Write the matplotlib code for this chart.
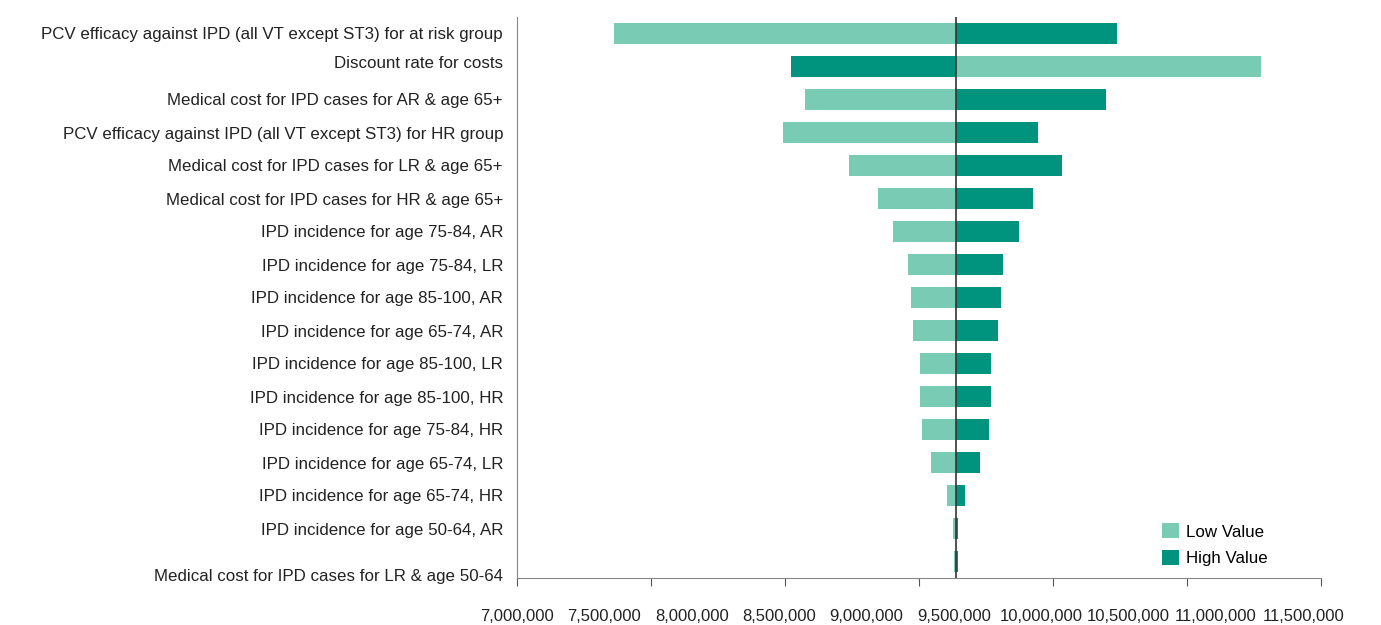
import matplotlib
matplotlib.use('Agg')
import matplotlib.pyplot as plt
import matplotlib.ticker as mticker
from matplotlib.patches import Patch
from matplotlib.transforms import ScaledTranslation

plt.rcParams['font.family'] = ['Liberation Sans', 'DejaVu Sans']

# one-way sensitivity results (total cost), top row first
params = [
    'PCV efficacy against IPD (all VT except ST3) for at risk group',
    'Discount rate for costs',
    'Medical cost for IPD cases for AR & age 65+',
    'PCV efficacy against IPD (all VT except ST3) for HR group',
    'Medical cost for IPD cases for LR & age 65+',
    'Medical cost for IPD cases for HR & age 65+',
    'IPD incidence for age 75-84, AR',
    'IPD incidence for age 75-84, LR',
    'IPD incidence for age 85-100, AR',
    'IPD incidence for age 65-74, AR',
    'IPD incidence for age 85-100, LR',
    'IPD incidence for age 85-100, HR',
    'IPD incidence for age 75-84, HR',
    'IPD incidence for age 65-74, LR',
    'IPD incidence for age 65-74, HR',
    'IPD incidence for age 50-64, AR',
    'Medical cost for IPD cases for LR & age 50-64',
]
low_vals = [7555000, 11259000, 8649000, 8523000, 8900000, 9066000, 9152000,
            9238000, 9255000, 9267000, 9307000, 9307000, 9318000, 9370000,
            9461000, 9496000, 9500000]
high_vals = [10434000, 8568000, 10372000, 9982000, 10120000, 9954000, 9874000,
             9782000, 9770000, 9753000, 9713000, 9713000, 9702000, 9650000,
             9564000, 9524000, 9522000]
base = 9512000

tick_labels = [7000000, 7500000, 8000000, 8500000, 9000000, 9500000,
               10000000, 10500000, 11000000, 11500000]

light = '#79cbb3'
dark = '#00947f'
fs = 12.2

fig = plt.figure(figsize=(13.81, 6.25), dpi=100)
ax = fig.add_axes([517 / 1381, 47 / 625, 804 / 1381, 561 / 625])

ys = list(range(len(params)))
for y, lo, hi in zip(ys, low_vals, high_vals):
    ax.barh(y, lo - base, left=base, height=0.66, color=light, linewidth=0)
    ax.barh(y, hi - base, left=base, height=0.66, color=dark, linewidth=0)

ax.axvline(base, color='#333333', linewidth=1.2)

ax.set_ylim(len(params) - 0.5, -0.5)
ax.set_yticks(ys)
ax.set_yticklabels(params, fontsize=fs, color='#222222')
ax.tick_params(axis='y', length=0, pad=10)

# small label offsets as in the source
labs = ax.get_yticklabels()
labs[1].set_transform(labs[1].get_transform() + ScaledTranslation(0, 0.04, fig.dpi_scale_trans))
labs[-1].set_transform(labs[-1].get_transform() + ScaledTranslation(0, -0.14, fig.dpi_scale_trans))

xmax = 7000000 + 804 / 174.7 * 1000000
ax.set_xlim(7000000, xmax)
# axis marks (Excel-style, 6 divisions) and labels spread evenly underneath
step = (xmax - 7000000) / 6
ax.xaxis.remove_overlapping_locs = False
ax.set_xticks([7000000 + i * step for i in range(7)])
ax.set_xticklabels([])
ax.tick_params(axis='x', which='major', length=6, color='#555555')
ax.xaxis.set_minor_locator(mticker.FixedLocator(tick_labels))
ax.xaxis.set_minor_formatter(mticker.FuncFormatter(lambda v, p: '{:,.0f}'.format(v)))
ax.tick_params(axis='x', which='minor', length=0, pad=22, labelsize=fs - 0.2,
               labelcolor='#222222')

for side in ['top', 'right']:
    ax.spines[side].set_visible(False)
ax.spines['left'].set_color('#888888')
ax.spines['bottom'].set_color('#888888')

handles = [Patch(facecolor=light, label='Low Value'),
           Patch(facecolor=dark, label='High Value')]
ax.legend(handles=handles, loc='lower right', frameon=False, fontsize=fs,
          handlelength=1.0, handleheight=1.0, handletextpad=0.4,
          bbox_to_anchor=(0.953, -0.006), labelspacing=0.6)

fig.savefig('out.png', dpi=100)
